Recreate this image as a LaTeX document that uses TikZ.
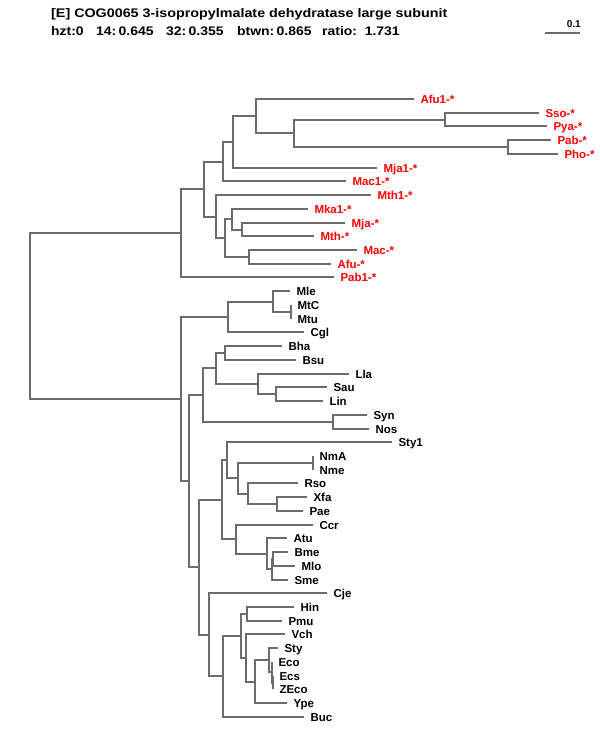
\documentclass[tikz,border=0pt]{standalone}
\usepackage{fontspec}
\setmainfont{Liberation Sans}
\definecolor{treegray}{RGB}{108,108,108}
\definecolor{archred}{RGB}{255,0,0}
\newcommand\lf[5]{\coordinate (#1) at (#2,#3); \node[#5] (t#1) at ([xshift=6.3bp,yshift=-4.3bp]#1) {#4};}
\newcommand\nd[3]{\coordinate (#1) at (#2,#3);}
\newcommand\statpart[2]{\makebox[#1][l]{\scalebox{1.12}[1]{#2}}}
\begin{document}
\begin{tikzpicture}[x=1bp,y=-1bp,
  br/.style={draw=treegray, line width=2bp},
  lab/.style={anchor=base west, inner sep=0pt, font=\bfseries\fontsize{11.5bp}{12bp}\selectfont},
  arch/.style={lab, text=archred},
  hdr/.style={anchor=base west, inner sep=0pt, font=\bfseries\fontsize{12.45bp}{14bp}\selectfont}]
\useasboundingbox (0,0) rectangle (600,750);
\fill[white] (0,0) rectangle (600,750);
% header
\node[hdr] (title) at (51,18) {\scalebox{1.15}[1]{[E] COG0065 3-isopropylmalate dehydratase large subunit}};
\node[hdr] (stats) at (51,36) {\statpart{45bp}{hzt:0}\statpart{70bp}{14:\,0.645}\statpart{71bp}{32:\,0.355}\statpart{85bp}{btwn:\,0.865}\scalebox{1.12}[1]{ratio:\ \ 1.731}};
\coordinate (sbL) at (545,33);
\coordinate (sbR) at (580,33);
\draw[br] (sbL) -- (sbR);
\node[anchor=base east, inner sep=0pt, font=\bfseries\fontsize{10bp}{12bp}\selectfont] (sblab) at (581,28) {0.1};
% leaves
\lf{Afu1}{414}{99}{Afu1-*}{arch}
\lf{Sso}{539}{113}{Sso-*}{arch}
\lf{Pya}{547}{126}{Pya-*}{arch}
\lf{Pab}{551}{140}{Pab-*}{arch}
\lf{Pho}{558}{154}{Pho-*}{arch}
\lf{Mja1}{377}{168}{Mja1-*}{arch}
\lf{Mac1}{346}{181}{Mac1-*}{arch}
\lf{Mth1}{371}{195}{Mth1-*}{arch}
\lf{Mka1}{308}{209}{Mka1-*}{arch}
\lf{Mja}{345}{223}{Mja-*}{arch}
\lf{Mth}{314}{236}{Mth-*}{arch}
\lf{Mac}{357}{250}{Mac-*}{arch}
\lf{Afu}{331}{264}{Afu-*}{arch}
\lf{Pab1}{334}{277}{Pab1-*}{arch}
\lf{Mle}{290}{291}{Mle}{lab}
\lf{MtC}{291}{305}{MtC}{lab}
\lf{Mtu}{291}{319}{Mtu}{lab}
\lf{Cgl}{304}{332}{Cgl}{lab}
\lf{Bha}{282}{346}{Bha}{lab}
\lf{Bsu}{296}{360}{Bsu}{lab}
\lf{Lla}{349}{374}{Lla}{lab}
\lf{Sau}{327}{387}{Sau}{lab}
\lf{Lin}{323}{401}{Lin}{lab}
\lf{Syn}{367}{415}{Syn}{lab}
\lf{Nos}{369}{429}{Nos}{lab}
\lf{Sty1}{392}{442}{Sty1}{lab}
\lf{NmA}{313}{456}{NmA}{lab}
\lf{Nme}{313}{470}{Nme}{lab}
\lf{Rso}{298}{483}{Rso}{lab}
\lf{Xfa}{307}{497}{Xfa}{lab}
\lf{Pae}{303}{511}{Pae}{lab}
\lf{Ccr}{313}{525}{Ccr}{lab}
\lf{Atu}{287}{538}{Atu}{lab}
\lf{Bme}{288}{552}{Bme}{lab}
\lf{Mlo}{295}{566}{Mlo}{lab}
\lf{Sme}{288}{580}{Sme}{lab}
\lf{Cje}{327}{593}{Cje}{lab}
\lf{Hin}{294}{607}{Hin}{lab}
\lf{Pmu}{282}{621}{Pmu}{lab}
\lf{Vch}{285}{634}{Vch}{lab}
\lf{Sty}{278}{648}{Sty}{lab}
\lf{Eco}{272}{662}{Eco}{lab}
\lf{Ecs}{273}{676}{Ecs}{lab}
\lf{ZEco}{273}{689}{ZEco}{lab}
\lf{Ype}{287}{703}{Ype}{lab}
\lf{Buc}{304}{717}{Buc}{lab}
% internal nodes
\nd{nH}{445}{120}
\nd{nI}{508}{147}
\nd{nG}{294}{133}
\nd{nF}{256}{116}
\nd{nE}{233}{142}
\nd{nC}{223}{162}
\nd{nM}{242}{230}
\nd{nK}{232}{219}
\nd{nL}{249}{257}
\nd{nJ}{225}{238}
\nd{nD}{216}{217}
\nd{nB}{204}{189}
\nd{nA}{181}{233}
\nd{nO2}{291}{312}
\nd{nO1}{273}{302}
\nd{nO}{228}{317}
\nd{nU}{225}{353}
\nd{nW}{276}{394}
\nd{nV}{258}{384}
\nd{nS}{216}{368}
\nd{nT}{333}{422}
\nd{nQ}{203}{395}
\nd{nY1}{313}{463}
\nd{nY3}{277}{504}
\nd{nY2}{248}{494}
\nd{nY}{238}{478}
\nd{nX}{227}{460}
\nd{nAD}{273}{559}
\nd{nAC}{272}{569}
\nd{nAB}{267}{554}
\nd{nAA}{236}{539}
\nd{nZ}{222}{500}
\nd{nAI}{247}{614}
\nd{nAN}{273}{683}
\nd{nAM}{272}{672}
\nd{nAL}{269}{660}
\nd{nAK}{255}{682}
\nd{nAJ}{246}{658}
\nd{nAH}{241}{636}
\nd{nAG}{223}{676}
\nd{nAF}{209}{635}
\nd{nAE}{199}{567}
\nd{nP}{189}{481}
\nd{nN}{181}{399}
\nd{nRoot}{30}{316}
% branches (child -| parent)
\foreach \c/\p in {nA/nRoot, nN/nRoot,
  nB/nA, Pab1/nA, nC/nB, nD/nB, nE/nC, Mac1/nC, nF/nE, Mja1/nE,
  Afu1/nF, nG/nF, nH/nG, nI/nG, Sso/nH, Pya/nH, Pab/nI, Pho/nI,
  Mth1/nD, nJ/nD, nK/nJ, nL/nJ, Mka1/nK, nM/nK, Mja/nM, Mth/nM, Mac/nL, Afu/nL,
  nO/nN, nP/nN, nO1/nO, Cgl/nO, Mle/nO1, nO2/nO1, MtC/nO2, Mtu/nO2,
  nQ/nP, nAE/nP, nS/nQ, nT/nQ, nU/nS, nV/nS, Bha/nU, Bsu/nU, Lla/nV, nW/nV,
  Sau/nW, Lin/nW, Syn/nT, Nos/nT,
  nZ/nAE, nAF/nAE, nX/nZ, nAA/nZ, Sty1/nX, nY/nX, nY1/nY, nY2/nY,
  NmA/nY1, Nme/nY1, Rso/nY2, nY3/nY2, Xfa/nY3, Pae/nY3,
  Ccr/nAA, nAB/nAA, Atu/nAB, nAC/nAB, nAD/nAC, Sme/nAC, Bme/nAD, Mlo/nAD,
  Cje/nAF, nAG/nAF, nAH/nAG, Buc/nAG, nAI/nAH, nAJ/nAH, Hin/nAI, Pmu/nAI,
  Vch/nAJ, nAK/nAJ, nAL/nAK, Ype/nAK, Sty/nAL, nAM/nAL, Eco/nAM, nAN/nAM,
  Ecs/nAN, ZEco/nAN}
  \draw[br] (\c) -| (\p);
\end{tikzpicture}
\end{document}
